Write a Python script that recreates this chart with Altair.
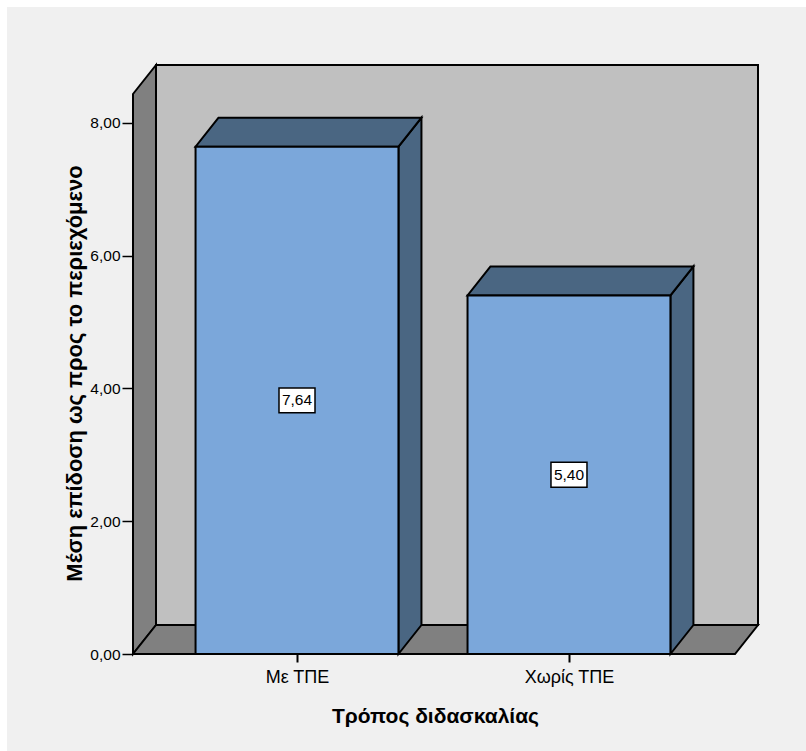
import json

import altair as alt
import pandas as pd

# ---- data -------------------------------------------------------------
categories = ["Με ΤΠΕ", "Χωρίς ΤΠΕ"]
means = [7.64, 5.40]
value_labels = ["7,64", "5,40"]
y_ticks = [0, 2, 4, 6, 8]

# ---- geometry of the pseudo-3D frame (data units) ---------------------
X_MIN, X_MAX = -0.603, 1.695      # x runs in category-index units
Y_MAX = 8.87
HALF = 0.373                       # half bar width
DX = 23 / 272                      # depth offset along x
DY = 29 / 66.4                     # depth offset along y
FLOOR_RIGHT = X_MAX - DX

FONT = "Liberation Sans"
FRONT = "#7BA7DA"
SIDE = "#4A6682"
WALL = "#808080"
BACK = "#C0C0C0"
EDGE = dict(stroke="black", strokeWidth=2)

idx = list(range(len(categories)))

x_scale = alt.Scale(domain=[X_MIN, X_MAX], nice=False, zero=False)
y_scale = alt.Scale(domain=[0, Y_MAX], nice=False, zero=True)

x_axis = alt.Axis(
    values=idx,
    labelExpr=f"{json.dumps(categories, ensure_ascii=False)}[round(datum.value)]",
    domain=False, grid=False,
    tickSize=8, tickColor="black", tickWidth=2,
    labelFont=FONT, labelFontSize=18, labelColor="black", labelPadding=6,
    title="Τρόπος διδασκαλίας", titleFont=FONT, titleFontSize=21,
    titleFontWeight="bold", titleColor="black",
    titleX=302, titleY=62, titleBaseline="middle",
)
y_axis = alt.Axis(
    values=y_ticks,
    labelExpr="replace(format(datum.value, '.2f'), '.', ',')",
    domain=False, grid=False,
    tickSize=11, tickColor="black", tickWidth=1.5,
    labelFont=FONT, labelFontSize=15.5, labelColor="black", labelPadding=2,
    title="Μέση επίδοση ως προς το περιεχόμενο", titleFont=FONT,
    titleFontSize=22, titleFontWeight="bold", titleColor="black",
    titleX=-59, titleY=308, titleBaseline="middle",
)

one = pd.DataFrame({"k": [0]})

# white margin along the top and left edges of the figure
strips = alt.layer(
    alt.Chart(one).mark_rect(fill="white").encode(
        x=alt.value(-133), x2=alt.value(673), y=alt.value(-65), y2=alt.value(-58)),
    alt.Chart(one).mark_rect(fill="white").encode(
        x=alt.value(-133), x2=alt.value(-126), y=alt.value(-65), y2=alt.value(686)),
)

# back wall
back = pd.DataFrame({"x": [X_MIN + DX], "x2": [X_MAX], "y": [DY], "y2": [Y_MAX]})
back_wall = alt.Chart(back).mark_rect(fill=BACK, **EDGE).encode(
    x=alt.X("x:Q", scale=x_scale, axis=x_axis),
    x2="x2:Q",
    y=alt.Y("y:Q", scale=y_scale, axis=y_axis),
    y2="y2:Q",
)

# left wall
left = pd.DataFrame({"x": [X_MIN, X_MIN + DX], "lo": [0, DY], "hi": [Y_MAX - DY, Y_MAX]})
left_wall = alt.Chart(left).mark_area(fill=WALL, orient="vertical", **EDGE).encode(
    x=alt.X("x:Q", scale=x_scale), y=alt.Y("hi:Q", scale=y_scale), y2="lo:Q")

# floor
floor = pd.DataFrame({"y": [0, DY], "lo": [X_MIN, X_MIN + DX],
                      "hi": [FLOOR_RIGHT, FLOOR_RIGHT + DX]})
floor_face = alt.Chart(floor).mark_area(fill=WALL, orient="horizontal", **EDGE).encode(
    y=alt.Y("y:Q", scale=y_scale), x=alt.X("lo:Q", scale=x_scale), x2="hi:Q")

# bars: front, top and side faces
fronts = pd.DataFrame({"cat": categories,
                       "x": [i - HALF for i in idx], "x2": [i + HALF for i in idx],
                       "y": [0] * len(idx), "y2": means})
tops = pd.DataFrame({
    "cat": [c for c in categories for _ in range(2)],
    "y": [v + d for v in means for d in (0, DY)],
    "lo": [i - HALF + d for i in idx for d in (0, DX)],
    "hi": [i + HALF + d for i in idx for d in (0, DX)],
})
sides = pd.DataFrame({
    "cat": [c for c in categories for _ in range(2)],
    "x": [i + HALF + d for i in idx for d in (0, DX)],
    "lo": [d for _ in idx for d in (0, DY)],
    "hi": [v + d for v in means for d in (0, DY)],
})

bar_side = alt.Chart(sides).mark_area(fill=SIDE, orient="vertical", **EDGE).encode(
    x=alt.X("x:Q", scale=x_scale), y=alt.Y("hi:Q", scale=y_scale), y2="lo:Q",
    detail="cat:N")
bar_top = alt.Chart(tops).mark_area(fill=SIDE, orient="horizontal", **EDGE).encode(
    y=alt.Y("y:Q", scale=y_scale), x=alt.X("lo:Q", scale=x_scale), x2="hi:Q",
    detail="cat:N")
bar_front = alt.Chart(fronts).mark_rect(fill=FRONT, **EDGE).encode(
    x=alt.X("x:Q", scale=x_scale), x2="x2:Q",
    y=alt.Y("y:Q", scale=y_scale), y2="y2:Q")

# value labels in white boxes at mid-height of each bar
labels = pd.DataFrame({"x": idx, "y": [v / 2 for v in means], "txt": value_labels})
label_box = alt.Chart(labels).mark_point(
    shape="M-1,-0.69L1,-0.69L1,0.69L-1,0.69Z", size=1296, filled=True,
    fill="white", stroke="black", strokeWidth=1.5, opacity=1,
).encode(x=alt.X("x:Q", scale=x_scale), y=alt.Y("y:Q", scale=y_scale))
label_text = alt.Chart(labels).mark_text(
    font=FONT, fontSize=15.5, color="black", baseline="middle", align="center",
).encode(x=alt.X("x:Q", scale=x_scale), y=alt.Y("y:Q", scale=y_scale), text="txt:N")

chart = alt.layer(
    strips, back_wall, left_wall, floor_face,
    bar_side, bar_top, bar_front, label_box, label_text,
).properties(
    width=625, height=589,
    autosize=alt.AutoSizeParams(type="none"),
    padding={"left": 133, "top": 65, "right": 48, "bottom": 97},
    background="#F0F0F0",
).configure_view(stroke=None)

chart.save("out.html", embed_options={"renderer": "svg", "actions": False})
